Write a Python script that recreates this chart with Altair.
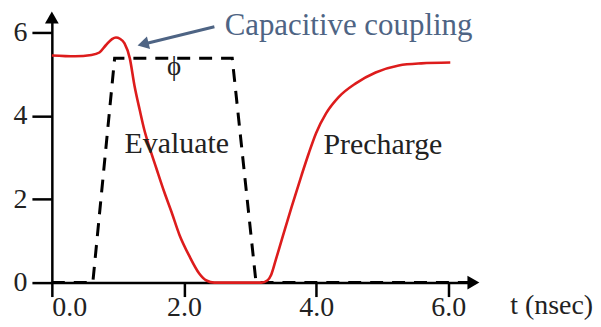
import altair as alt
import pandas as pd

# red curve (dynamic node voltage)
red_t = [0.00, 0.35, 0.60, 0.72, 0.82, 0.91, 0.97, 1.03, 1.10, 1.18, 1.25, 1.33, 1.40, 1.48,
         1.58, 1.70, 1.81, 1.93, 2.08, 2.23, 2.34, 2.46, 3.17, 3.26, 3.32, 3.39, 3.48, 3.63,
         3.78, 3.89, 4.00, 4.15, 4.34, 4.60, 4.90, 5.25, 5.59, 6.03]
red_v = [5.45, 5.43, 5.46, 5.52, 5.70, 5.84, 5.88, 5.85, 5.74, 5.38, 4.73, 4.14, 3.66, 3.23,
         2.75, 2.18, 1.70, 1.15, 0.64, 0.22, 0.05, 0.0, 0.0, 0.05, 0.19, 0.55, 1.03, 1.82,
         2.58, 3.11, 3.59, 4.06, 4.45, 4.78, 5.04, 5.21, 5.26, 5.28]

# clock phi (dashed)
phi_t = [0.0, 0.62, 0.95, 2.73, 3.09, 6.3]
phi_v = [0.0, 0.0, 5.38, 5.38, 0.0, 0.0]

x_ticks = [0, 2, 4, 6]
y_ticks = [0, 2, 4, 6]
x_max = 6.38
y_max = 6.36

labels = ["Capacitive coupling", "Evaluate", "Precharge", "ϕ"]
label_t = [4.49, 1.89, 5.01, 1.85]
label_v = [5.93, 3.11, 3.09, 4.97]
label_size = [31, 30, 30, 27]

arrow_t = [2.46, 1.38]
arrow_v = [6.14, 5.72]

FONT = "Liberation Serif"
BLUE = "#4e6484"
RED = "#dd1c1c"

xs = alt.Scale(domain=[0, x_max], nice=False, zero=False)
ys = alt.Scale(domain=[0, y_max], nice=False, zero=False)

red_df = pd.DataFrame({"t": red_t, "v": red_v})
phi_df = pd.DataFrame({"t": phi_t, "v": phi_v})

base_x = alt.X("t:Q", scale=xs,
               axis=alt.Axis(values=x_ticks, format=".1f", tickSize=14, labelPadding=19,
                             labelBaseline="alphabetic",
                             title="t (nsec)", titleX=501, titleY=31, titleAlign="center",
                             titleBaseline="alphabetic", titleFont=FONT, titleFontSize=28,
                             titleFontWeight="normal", titleColor="#222"))
base_y = alt.Y("v:Q", scale=ys,
               axis=alt.Axis(values=y_ticks, format="d", tickSize=20, labelPadding=5,
                             title=None))

phi = alt.Chart(phi_df).mark_line(color="black", strokeWidth=3, strokeDash=[13, 9]).encode(
    x=base_x, y=base_y)

red = alt.Chart(red_df).mark_line(color=RED, strokeWidth=2.6, interpolate="monotone").encode(
    x=alt.X("t:Q", scale=xs), y=alt.Y("v:Q", scale=ys))

lab_df = pd.DataFrame({"label": labels, "t": label_t, "v": label_v,
                       "c": [BLUE, "#222", "#222", "#222"],
                       "s": label_size})
txt = alt.Chart(lab_df).mark_text(font=FONT, baseline="alphabetic", align="center").encode(
    x=alt.X("t:Q", scale=xs), y=alt.Y("v:Q", scale=ys), text="label:N",
    color=alt.Color("c:N", scale=None), size=alt.Size("s:Q", scale=None))

arr_df = pd.DataFrame({"t": [arrow_t[0]], "v": [arrow_v[0]], "t2": [arrow_t[1]], "v2": [arrow_v[1]]})
arr_line = alt.Chart(arr_df).mark_rule(color=BLUE, strokeWidth=3).encode(
    x=alt.X("t:Q", scale=xs), y=alt.Y("v:Q", scale=ys), x2="t2:Q", y2="v2:Q")
head_df = pd.DataFrame({"t": [arrow_t[1]], "v": [arrow_v[1]]})
arr_head = alt.Chart(head_df).mark_point(shape="triangle-up", filled=True, opacity=1,
                                         color=BLUE, size=170, angle=256).encode(
    x=alt.X("t:Q", scale=xs), y=alt.Y("v:Q", scale=ys))

axis_heads_df = pd.DataFrame({"t": [0, x_max], "v": [y_max, 0], "a": [0, 90]})
axis_heads = alt.Chart(axis_heads_df).mark_point(shape="triangle-up", filled=True, opacity=1,
                                                 color="black", size=190).encode(
    x=alt.X("t:Q", scale=xs), y=alt.Y("v:Q", scale=ys), angle=alt.Angle("a:Q", scale=None))

chart = alt.layer(phi, red, txt, arr_line, arr_head, axis_heads).properties(
    width=423, height=266,
    autosize=alt.AutoSizeParams(type="none"),
    padding={"left": 44, "top": 9, "right": 120, "bottom": 40},
).configure_view(stroke=None).configure_axis(
    domainColor="black", domainWidth=2.5, tickColor="black", tickWidth=2.5,
    labelFont=FONT, labelFontSize=28, labelColor="#222", grid=False,
)

chart.save("out.html", embed_options={"renderer": "svg", "actions": False})
